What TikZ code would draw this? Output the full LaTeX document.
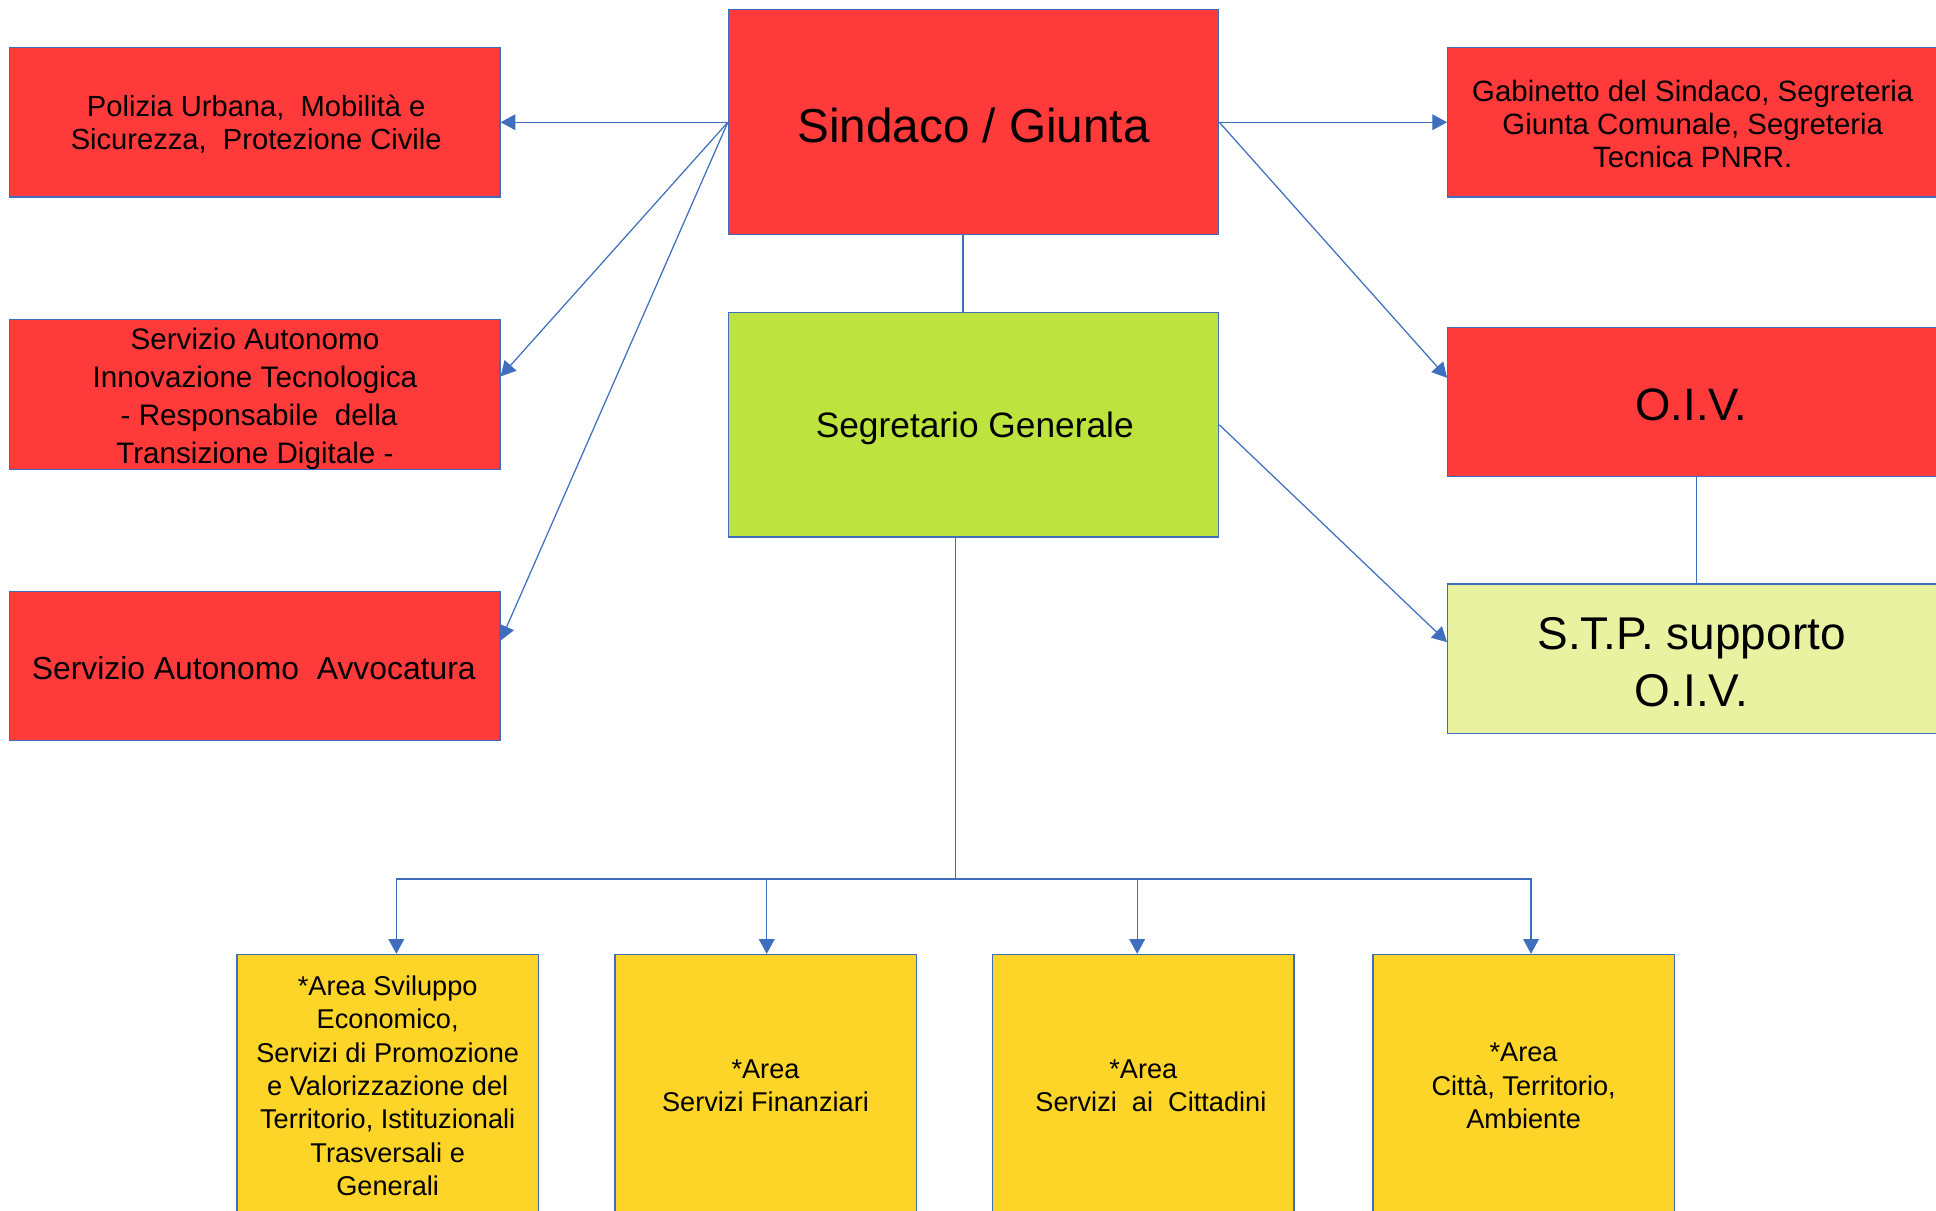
\documentclass[tikz,border=0pt]{standalone}
\usepackage{fontspec}
\setmainfont{Liberation Sans}
\usetikzlibrary{arrows.meta,calc}
\definecolor{lnblue}{HTML}{3F6EBF}
\definecolor{boxred}{HTML}{FF3A3A}
\definecolor{boxgreen}{HTML}{BDE33F}
\definecolor{boxlight}{HTML}{E8F2A1}
\definecolor{boxyellow}{HTML}{FDD428}
\tikzset{
  box/.style={draw=lnblue, line width=0.5pt, inner sep=0pt, align=center,
    minimum width=198.5pt, minimum height=60.5pt, text=black},
  bigbox/.style={box, minimum height=91pt},
  areabox/.style={draw=lnblue, line width=0.5pt, inner sep=0pt, align=center,
    minimum width=122pt, minimum height=106.5pt, fill=boxyellow, text=black,
    font=\fontsize{11}{13.5}\selectfont},
  arr/.style={draw=lnblue, line width=0.5pt, -{Triangle[length=6pt,width=6.4pt]}},
  ln/.style={draw=lnblue, line width=0.5pt},
  txtdown/.style={text depth=0pt}
}
\begin{document}
\begin{tikzpicture}[x=0.5pt,y=-0.5pt]
\useasboundingbox (0,0) rectangle (1568,980);
\clip (0,0) rectangle (1568,980);
% top centre
\node[bigbox, fill=boxred] (sind) at (788.5,99) {};
\node[font=\fontsize{19.3}{23}\selectfont, inner sep=0pt] (sindt) at (788.5,101.5) {Sindaco / Giunta};
\node[bigbox, fill=boxgreen] (seg) at (788.5,344) {};
\node[font=\fontsize{14.3}{17}\selectfont, inner sep=0pt] (segt) at (789.5,347) {Segretario Generale};
% left column
\node[box, fill=boxred] (pol) at (206.5,99) {};
\node[font=\fontsize{11.8}{13.5}\selectfont, align=center, inner sep=0pt] (polt) at (207.5,100.5)
  {Polizia Urbana,\ \ Mobilità e\\Sicurezza,\ \ Protezione Civile};
\node[box, fill=boxred] (inn) at (206.5,319.5) {};
\node[font=\fontsize{12}{15.5}\selectfont, align=center, inner sep=0pt] (innt) at (206.5,323)
  {Servizio Autonomo\\Innovazione Tecnologica\\\ - Responsabile\ \ della\\Transizione Digitale -};
\node[box, fill=boxred] (avv) at (206.5,539.5) {};
\node[font=\fontsize{12.9}{15}\selectfont, inner sep=0pt] (avvt) at (205.5,541)
  {Servizio Autonomo\ \ Avvocatura};
% right column
\node[box, fill=boxred] (gab) at (1371,99) {};
\node[font=\fontsize{11.9}{13.25}\selectfont, align=center, inner sep=0pt] (gabt) at (1371,100.5)
  {Gabinetto del Sindaco, Segreteria\\Giunta Comunale, Segreteria\\Tecnica PNRR.};
\node[box, fill=boxred] (oiv) at (1371,325.5) {};
\node[font=\fontsize{18.4}{22}\selectfont, inner sep=0pt] (oivt) at (1370,328) {O.I.V.};
\node[box, fill=boxlight] (stp) at (1371,533.5) {};
\node[font=\fontsize{18.6}{23}\selectfont, align=center, inner sep=0pt] (stpt) at (1370,536) {S.T.P. supporto\\O.I.V.};
% bottom areas
\node[areabox] (a1) at (314,879.5)
  {*Area Sviluppo\\Economico,\\Servizi di Promozione\\e Valorizzazione del\\Territorio, Istituzionali\\Trasversali e\\Generali};
\node[areabox] (a2) at (620,879.5) {*Area\\Servizi Finanziari};
\node[areabox] (a3) at (926,879.5) {*Area\\\ \ Servizi\ \ ai\ \ Cittadini};
\node[areabox] (a4) at (1234,879.5) {*Area\\Città, Territorio,\\Ambiente};
% connectors from Sindaco
\draw[arr] (sind.west) -- (pol.east);
\draw[arr] (sind.west) -- ($(inn.north east)!0.38!(inn.south east)$);
\draw[arr] (sind.west) -- ($(avv.north east)!0.33!(avv.south east)$);
\draw[arr] (sind.east) -- (gab.west);
\draw[arr] (sind.east) -- ($(oiv.north west)!0.34!(oiv.south west)$);
\draw[ln] ($(sind.south)+(-8.5,0)$) -- ($(seg.north)+(-8.5,0)$);
\draw[arr] (seg.east) -- ($(stp.north west)!0.39!(stp.south west)$);
\draw[ln] ($(oiv.south)+(3,0)$) -- ($(stp.north)+(3,0)$);
% bus to areas
\coordinate (bus) at (774,712);
\draw[ln] ($(seg.south)+(-14.5,0)$) -- (bus);
\draw[arr] (bus) -| ($(a1.north)+(7,0)$);
\draw[arr] (bus) -| ($(a2.north)+(1,0)$);
\draw[arr] (bus) -| ($(a3.north)+(-5,0)$);
\draw[arr] (bus) -| ($(a4.north)+(6,0)$);
\end{tikzpicture}
\end{document}
